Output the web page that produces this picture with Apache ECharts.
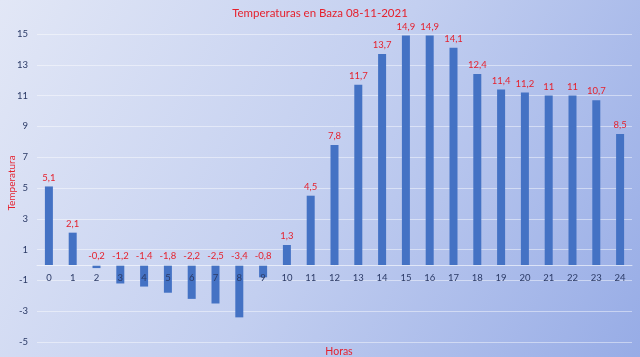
<!DOCTYPE html>
<html><head><meta charset="utf-8">
<script src="https://cdn.jsdelivr.net/npm/echarts@6/dist/echarts.min.js"></script>
<style>html,body{margin:0;padding:0;}#c{width:640px;height:357px;}</style>
</head><body><div id="c"></div>
<script>
const hours = ['0','1','2','3','4','5','6','7','8','9','10','11','12','13','14','15','16','17','18','19','20','21','22','23','24'];
const temps = [5.1, 2.1, -0.2, -1.2, -1.4, -1.8, -2.2, -2.5, -3.4, -0.8, 1.3, 4.5, 7.8, 11.7, 13.7, 14.9, 14.9, 14.1, 12.4, 11.4, 11.2, 11, 11, 10.7, 8.5];
const yTicks = {min: -5, max: 15, step: 2};

const chart = echarts.init(document.getElementById('c'));
const red = '#e5222e';
const font = 'Lato, "Open Sans", sans-serif';
const gridTop = 34, gridBottom = 15, H = 357;
const plotH = H - gridTop - gridBottom;
const zeroOffset = -plotH * (0 - yTicks.min) / (yTicks.max - yTicks.min);
chart.setOption({
  backgroundColor: new echarts.graphic.LinearGradient(0, 0, 1, 1, [
    {offset: 0, color: '#e2e7f6'},
    {offset: 0.5, color: '#c3cff0'},
    {offset: 1, color: '#97ace6'}
  ]),
  title: [
    {text: 'Temperaturas en Baza 08-11-2021', left: 'center', top: 2,
     textStyle: {color: red, fontSize: 11.5, fontWeight: 'normal', fontFamily: font}},
    {text: 'Horas', left: 334, top: 341, textAlign: 'center',
     textStyle: {color: red, fontSize: 10.5, fontWeight: 'normal', fontFamily: font}}
  ],
  graphic: [{
    type: 'text', x: 12, y: 183, rotation: Math.PI / 2,
    style: {text: 'Temperatura', fill: red, fontSize: 10, fontFamily: font, align: 'center', verticalAlign: 'middle'}
  }],
  grid: {left: 37, right: 8, top: gridTop, bottom: gridBottom, containLabel: false, outerBoundsMode: 'none'},
  xAxis: {
    type: 'category', data: hours, offset: zeroOffset, z: 5,
    axisLine: {onZero: false, lineStyle: {color: 'rgba(255,255,255,0.6)'}},
    axisTick: {show: false},
    axisLabel: {color: '#2b3a66', fontSize: 9.5, fontFamily: font, margin: 8}
  },
  yAxis: {
    type: 'value', min: yTicks.min, max: yTicks.max, interval: yTicks.step,
    axisLine: {show: false}, axisTick: {show: false},
    axisLabel: {color: '#2b3a66', fontSize: 9.5, fontFamily: font, margin: 9},
    splitLine: {lineStyle: {color: 'rgba(255,255,255,0.45)', width: 1}}
  },
  series: [{
    type: 'bar', data: temps, barWidth: 8,
    itemStyle: {color: '#4472c4'},
    label: {show: true, position: 'top', color: red, fontSize: 9.5, fontFamily: font, distance: 4,
      formatter: p => String(p.value).replace('.', ',')}
  }]
});
</script></body></html>
